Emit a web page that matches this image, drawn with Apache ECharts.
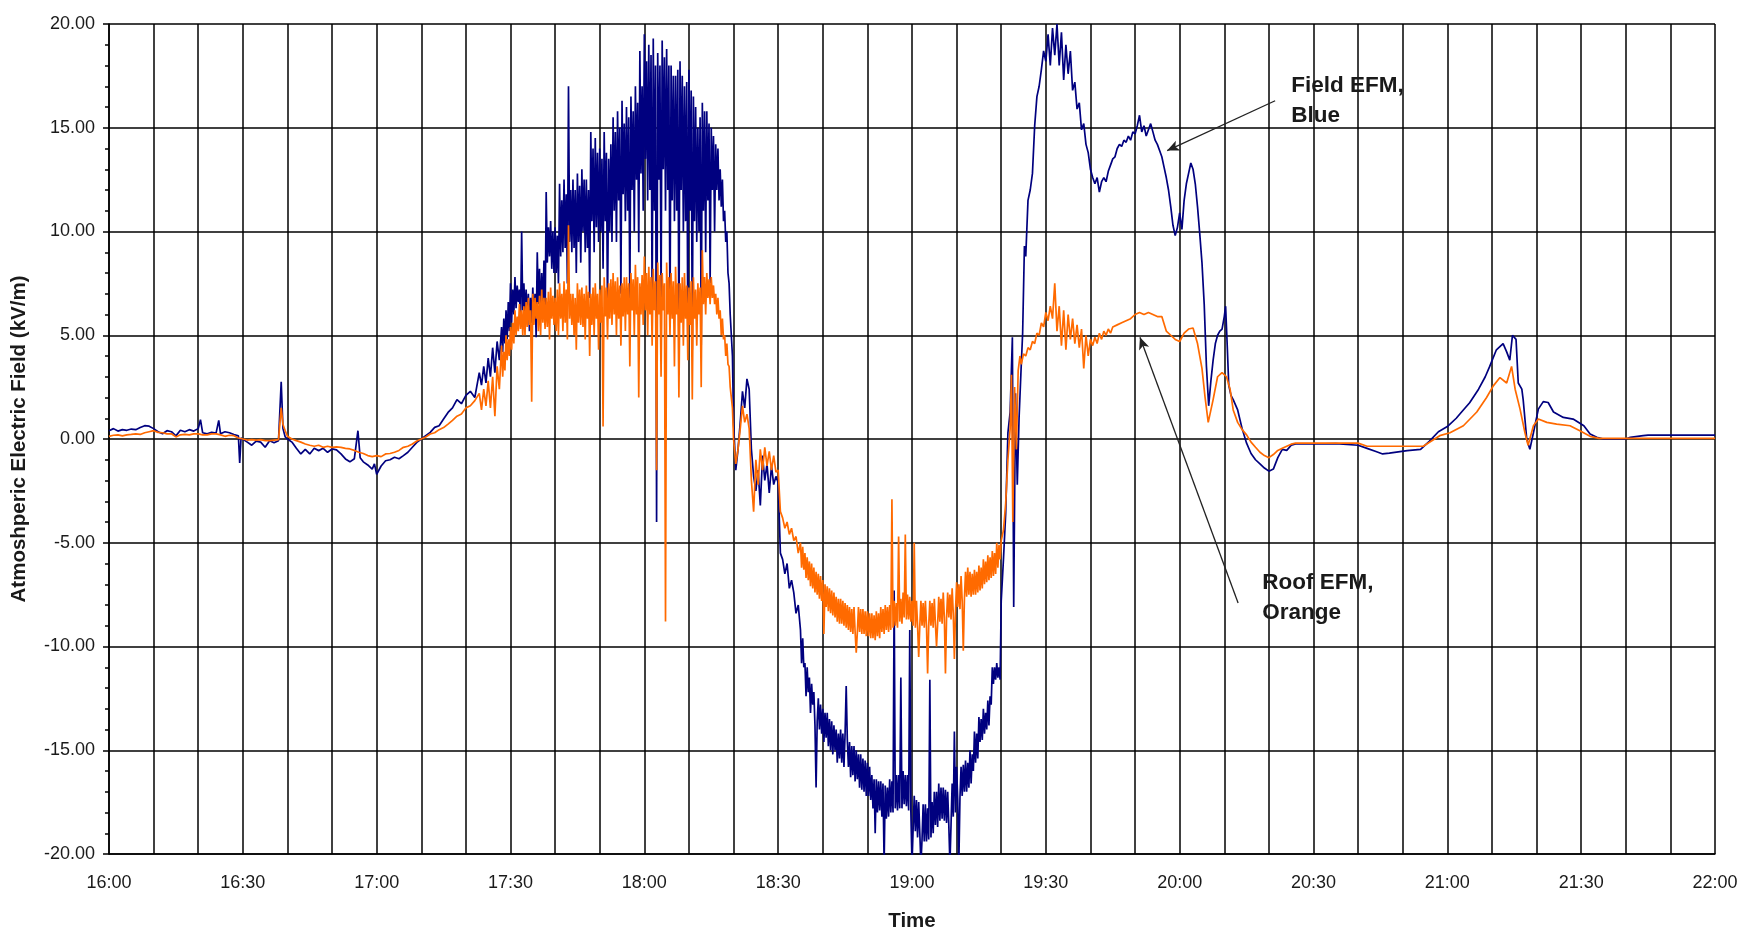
<!DOCTYPE html>
<html>
<head>
<meta charset="utf-8">
<title>Atmospheric Electric Field</title>
<script src="https://cdn.jsdelivr.net/npm/echarts@6/dist/echarts.min.js"></script>
<style>
  html, body { margin: 0; padding: 0; background: #fff; }
  #chart { width: 1748px; height: 937px; }
</style>
</head>
<body>
<div id="chart"></div>
<script>
// Time is in minutes after 16:00; field values in kV/m.
const startHour = 16;
const timeMin = 0;
const timeMax = 360;
const fieldMin = -20;
const fieldMax = 20;

// Storm bursts are logged every quarter minute
const burstStep = 0.25;
const burstAStart = 88;
const burstBStart = 155;

// ---- Field EFM (blue trace) ----
const fieldEarly = [
  [0,0.4],[1,0.5],[2,0.38],[3,0.45],[4,0.42],[5,0.48],[6,0.45],[7,0.55],[8,0.64],[9,0.62],
  [10,0.5],[11,0.35],[12,0.25],[13,0.4],[14,0.35],[15,0.15],[16,0.42],[17,0.35],[18,0.45],[19,0.38],
  [20,0.5],[20.5,0.93],[21,0.3],[22,0.25],[23,0.32],[24,0.28],[24.6,0.9],[25,0.25],[26,0.35],[27,0.3],
  [28,0.22],[29,0.15],[29.3,-1.15],[29.6,0.05],[30,0],[31,-0.15],[32,-0.3],[33,-0.1],[34,-0.15],[35,-0.4],
  [36,-0.08],[37,-0.18],[38,-0.08],[38.6,2.76],[39,0.5],[39.5,0.1],[40,0],[41,-0.15],[42,-0.45],[43,-0.72],
  [44,-0.5],[45,-0.72],[46,-0.45],[47,-0.56],[48,-0.45],[49,-0.64],[50,-0.48],[51,-0.52],[52,-0.72],[53,-0.96],
  [54,-1.1],[55,-0.95],[55.8,0.4],[56.3,-0.9],[57,-1.1],[58,-1.25],[59,-1.45],[59.5,-1.2],[60,-1.7],[61,-1.3],
  [62,-1.05],[63,-1.0],[64,-0.88],[65,-0.95],[66,-0.8],[67,-0.64],[68,-0.4],[69,-0.16],[70,0],[71,0.16],
  [72,0.32],[73,0.56],[74,0.64],[75,0.96],[76,1.28],[77,1.5],[78,1.9],[79,1.7],[80,2.1],[81,2.3],[82,2.0],
  [83,3.2],[83.5,2.6],[84,3.5],[84.5,2.7],[85,3.9],[85.5,3.0],[86,4.4],[86.5,3.2],[87,4.7],[87.5,3.8]
];
// 17:28 - 18:20, four readings per minute
const fieldBurstA = [
  5.4,4.2,5.8,4.6,  6.2,4.8,6.6,5.2,  7.5,5.6,7.2,6.0,  7.8,6.3,7.4,6.6,  7.2,5.6,10.0,6.2,
  7.5,6.0,7.2,5.8,  7.0,5.2,6.8,5.6,  7.3,5.8,7.0,4.9,  9.0,6.5,8.2,6.0,  8.0,6.2,8.6,5.5,
  11.9,8.5,10.2,8.8,  10.5,8.2,10.0,8.0,  10.2,8.0,9.8,7.5,  12.3,8.8,11.5,9.0,  12.5,9.2,11.8,7.5,
  17.0,9.5,12.0,9.0,  12.5,9.2,12.0,8.0,  12.8,9.5,12.2,8.5,  13.0,10.0,12.5,9.0,  12.5,9.2,12.0,6.8,
  14.8,10.5,14.0,9.0,  14.5,10.2,13.8,9.5,  14.0,10.0,13.5,8.2,  14.8,10.5,13.8,6.0,  13.5,10.0,14.2,9.5,
  15.5,11.0,14.8,9.5,  15.8,11.5,15.0,7.0,  16.3,11.8,15.2,10.5,  16.0,11.0,15.5,6.5,  16.5,12.0,15.8,10.0,
  17.0,12.5,16.2,9.0,  18.7,12.8,17.0,11.0,  19.5,13.5,18.2,11.5,  19.0,12.0,18.5,6.0,  19.3,11.0,18.0,-4.0,
  18.6,12.5,18.0,6.5,  19.2,13.0,18.4,11.0,  18.8,12.0,18.0,5.5,  18.0,11.5,17.5,10.5,  17.5,11.0,17.8,4.5,
  18.2,12.0,17.5,10.0,  17.0,10.5,17.2,5.0,  17.8,11.0,16.8,4.3,  16.5,10.5,16.0,9.5,  15.0,10.0,15.5,4.5,
  16.2,11.0,15.8,9.0,  15.8,11.5,15.2,7.5,  15.0,12.0,14.6,10.0,  14.2,12.0,14.0,11.5,  13.0,11.2,12.5,10.5,
  11.0,9.5,10.0,8.0,  7.5,6.0,5.0,4.0
];
const fieldMid = [
  [140,0.8],[140.5,-1.5],[141,-0.5],[141.5,0.8],[142,2.3],[142.5,1.5],[143,2.9],[143.5,2.4],[144,-0.5],[144.5,-1.8],
  [145,-2.5],[145.5,-1.5],[146,-3.2],[146.5,-0.8],[147,-2.0],[147.5,-1.2],[148,-2.6],[148.5,-1.3],[149,-2.2],[149.5,-1.8],
  [150,-2.1],[150.5,-5.5],[151,-5.8],[151.5,-6.5],[152,-6.0],[152.5,-7.2],[153,-6.8],[153.5,-7.4],[154,-8.4],[154.5,-8.0]
];
// 18:35 - 19:20, four readings per minute
const fieldBurstB = [
  -9.2,-10.8,-9.6,-11.0,  -10.8,-12.4,-11.0,-12.2,  -11.5,-13.2,-11.8,-12.8,  -12.2,-13.8,-16.8,-13.6,  -12.5,-14.0,-12.8,-14.2,
  -13.0,-14.6,-13.2,-14.4,  -13.2,-14.8,-13.5,-15.0,  -13.6,-15.2,-13.8,-15.0,  -14.0,-15.6,-14.2,-15.4,  -14.0,-15.6,-14.2,-15.8,
  -14.2,-11.9,-14.5,-15.8,  -14.6,-16.3,-14.8,-16.2,  -14.8,-16.5,-15.0,-16.4,  -15.2,-16.8,-15.2,-16.9,  -15.4,-17.0,-15.5,-17.2,
  -15.6,-17.2,-15.8,-17.4,  -16.2,-17.8,-16.4,-19.0,  -16.4,-18.0,-16.5,-17.9,  -16.5,-18.2,-16.6,-20.5,  -16.7,-18.3,-16.8,-18.2,
  -16.4,-18.0,-16.5,-18.0,  -7.3,-17.8,-16.2,-17.9,  -16.2,-17.8,-11.5,-17.8,  -16.0,-17.6,-16.2,-17.7,  -16.2,-17.9,-9.2,-18.0,
  -20.5,-18.8,-17.2,-18.9,  -17.4,-19.2,-17.5,-19.0,  -20.5,-19.3,-17.6,-19.4,  -17.6,-19.4,-17.8,-19.3,  -11.6,-19.2,-17.5,-19.0,
  -17.0,-18.6,-17.0,-18.7,  -16.6,-18.4,-16.8,-18.3,  -16.8,-18.4,-16.9,-18.5,  -17.0,-18.6,-20.5,-18.6,  -16.6,-18.2,-14.1,-18.0,
  -15.8,-17.4,-20.5,-17.3,  -15.8,-17.2,-15.7,-17.0,  -15.5,-17.0,-15.6,-16.8,  -15.0,-16.6,-15.2,-16.0,  -14.1,-15.6,-14.2,-15.4,
  -13.4,-14.6,-13.5,-14.5,  -13.0,-14.2,-13.2,-14.0,  -12.6,-13.8,-12.4,-12.8,  -11.0,-11.8,-11.0,-11.6,  -10.8,-11.5,-11.0,-11.6
];
const fieldLate = [
  [200,-7.8],[200.5,-5.8],[201,-3.6],[201.5,0.3],[202,1.3],[202.5,4.9],[202.8,-8.1],[203.2,2.2],[203.6,-2.2],[204,1.0],
  [204.4,3.1],[204.8,5.1],[205.2,9.3],[205.5,8.8],[206,11.5],[206.5,12.0],[207,12.8],[207.5,15.1],[208,16.5],[208.5,17.0],
  [209,17.8],[209.5,18.7],[210,18.2],[210.5,19.5],[211,18.0],[211.5,19.8],[212,18.5],[212.5,20.0],[213,18.0],[213.5,19.6],
  [214,17.3],[214.5,19.0],[215,17.6],[215.5,18.7],[216,16.8],[216.5,17.2],[217,15.9],[217.5,16.2],[218,14.9],[218.5,15.2],
  [219,14.2],[219.5,13.8],[220,13.0],[220.5,12.6],[221,12.3],[221.5,12.6],[222,11.9],[222.5,12.4],[223,12.6],[223.5,12.4],
  [224,12.9],[224.5,13.2],[225,13.5],[225.5,13.6],[226,14.0],[226.5,14.2],[227,14.1],[227.5,14.4],[228,14.3],[228.5,14.6],
  [229,14.4],[229.5,14.8],[230,14.7],[230.5,15.1],[231,15.6],[231.5,14.8],[232,15.1],[232.5,14.6],[233,14.9],[233.5,15.2],
  [234,14.8],[234.5,14.4],[235,14.2],[235.5,13.9],[236,13.6],[236.5,13.1],[237,12.6],[237.5,12.0],[238,11.2],[238.5,10.3],
  [239,9.8],[239.5,10.2],[240,10.9],[240.5,10.1],[241,11.5],[241.5,12.3],[242,12.8],[242.5,13.3],[243,13.0],[243.5,12.3],
  [244,11.2],[244.5,9.9],[245,8.5],[245.5,6.5],[246,3.5],[246.5,1.6],[247,2.8],[247.5,3.8],[248,4.6],[248.5,5.0],
  [249,5.2],[249.5,5.3],[250,5.9],[250.3,6.4],[250.7,4.3],[251,2.6],[251.5,2.1],[252,1.9],[253,1.4],[254,0.5],
  [255,-0.2],[256,-0.7],[257,-1.0],[258,-1.2],[259,-1.4],[260,-1.55],[261,-1.45],[262,-0.9],[263,-0.5],[264,-0.55],
  [265,-0.3],[266,-0.24],[270,-0.24],[275,-0.22],[280,-0.3],[282,-0.45],[284,-0.6],[285.5,-0.72],[287,-0.68],[289,-0.62],
  [291,-0.56],[294,-0.5],[296,-0.1],[298,0.35],[300,0.6],[302,1.0],[303,1.25],[305,1.75],[307,2.4],[308.5,3.0],
  [309.5,3.5],[311,4.3],[312.5,4.6],[313.3,4.2],[314,3.8],[314.6,5.0],[315.4,4.8],[315.9,2.7],[316.7,2.4],[317,1.9],
  [317.8,0.0],[318.5,-0.5],[319.3,0.3],[320.4,1.44],[321.5,1.8],[322.6,1.76],[323.8,1.3],[326,1.04],[328.2,0.96],[330.6,0.64],
  [332,0.24],[333.5,0.08],[335,0],[340,0],[341,0.08],[343.9,0.16],[345,0.19],[360,0.19]
];

// ---- Roof EFM (orange trace) ----
const roofEarly = [
  [0,0.13],[1,0.18],[2,0.2],[3,0.15],[4,0.2],[5,0.22],[6,0.25],[7,0.22],[8,0.3],[9,0.35],
  [10,0.4],[11,0.32],[12,0.3],[13,0.25],[14,0.25],[15,0.1],[16,0.2],[17,0.22],[18,0.2],[19,0.25],
  [20,0.25],[21,0.2],[22,0.2],[23,0.25],[24,0.25],[25,0.2],[26,0.13],[27,0.18],[28,0.16],[29,0.05],
  [30,0],[31,-0.05],[32,-0.03],[33,-0.05],[34,-0.03],[35,-0.08],[36,-0.08],[37,-0.05],[38,-0.03],[38.6,1.5],
  [39,0.7],[39.5,0.4],[40,0.13],[41,0.0],[42,-0.08],[43,-0.15],[44,-0.24],[45,-0.3],[46,-0.35],[47,-0.3],
  [48,-0.4],[49,-0.35],[50,-0.4],[51,-0.38],[52,-0.4],[53,-0.45],[54,-0.48],[55,-0.55],[56,-0.64],[57,-0.7],
  [58,-0.8],[59,-0.85],[60,-0.8],[61,-0.85],[62,-0.72],[63,-0.7],[64,-0.64],[65,-0.55],[66,-0.4],[67,-0.35],
  [68,-0.24],[69,-0.1],[70,0],[71,0.1],[72,0.24],[73,0.3],[74,0.45],[75,0.55],[76,0.72],[77,0.9],
  [78,1.1],[79,1.2],[80,1.5],[81,1.6],[82,1.85],
  [83,2.2],[83.5,1.4],[84,2.4],[84.5,1.6],[85,2.8],[85.5,1.5],[86,3.0],[86.5,1.1],[87,3.5],[87.5,2.4]
];
const roofBurstA = [
  4.5,3.0,4.2,3.3,  5.0,3.8,4.8,4.0,  5.4,4.3,5.6,4.6,  6.2,5.0,5.9,5.2,  6.5,5.3,6.2,5.0,
  6.4,5.0,6.6,5.4,  6.8,5.5,6.2,1.8,  7.0,5.5,6.8,5.8,  6.6,5.2,6.9,5.0,  7.2,5.6,6.8,5.3,
  6.8,5.4,7.1,4.8,  7.3,5.8,6.9,5.5,  6.8,5.2,7.2,5.0,  7.5,5.8,7.0,5.2,  7.6,5.6,7.2,4.8,
  10.3,5.8,7.0,5.5,  7.0,5.0,6.8,4.3,  7.5,5.6,7.2,5.5,  7.3,5.4,7.0,4.8,  7.4,5.8,7.1,4.0,
  7.0,5.5,7.3,5.0,  7.5,5.8,7.0,4.3,  7.2,5.6,7.4,0.6,  7.8,5.9,7.3,4.8,  7.5,5.8,7.7,5.5,
  8.0,6.0,7.6,5.0,  7.8,5.8,7.4,4.5,  7.5,5.9,7.8,5.2,  7.8,6.0,7.5,3.5,  8.0,6.2,7.7,5.0,
  8.4,6.0,7.8,2.0,  7.5,6.0,7.9,5.5,  8.8,6.2,8.0,5.0,  8.3,6.0,7.8,4.5,  8.2,6.2,7.6,-1.5,
  8.5,6.0,7.9,3.0,  8.0,6.2,7.5,-8.8,  8.5,6.0,7.8,5.0,  8.0,5.8,7.6,3.5,  8.3,6.0,7.5,2.0,
  7.5,5.6,7.8,4.5,  8.0,5.8,7.4,3.8,  7.3,5.5,7.6,1.9,  7.8,5.8,7.2,4.5,  7.5,6.0,7.3,2.5,
  9.1,6.5,7.8,6.0,  8.0,6.8,7.7,6.5,  7.8,6.8,7.4,6.5,  7.0,6.0,6.8,5.8,  6.2,5.0,5.8,4.8,
  5.0,4.0,4.6,3.6,  3.5,2.5,2.5,1.5
];
const roofMid = [
  [140,0.0],[140.5,-1.2],[141,-0.5],[141.5,0.5],[142,1.6],[142.5,0.8],[143,1.2],[143.5,0.5],[144,-2.0],[144.5,-3.5],
  [145,-1.0],[145.5,-2.2],[146,-0.5],[146.5,-1.5],[147,-0.4],[147.5,-1.3],[148,-0.6],[148.5,-1.5],[149,-0.8],[149.5,-1.6],
  [150,-1.5],[150.5,-3.5],[151,-3.8],[151.5,-4.3],[152,-4.0],[152.5,-4.6],[153,-4.3],[153.5,-4.9],[154,-4.7],[154.5,-5.5]
];
const roofBurstB = [
  -5.0,-6.2,-5.2,-6.3,  -5.5,-6.7,-5.7,-6.8,  -5.9,-7.1,-6.0,-7.2,  -6.2,-7.4,-6.4,-7.5,  -6.5,-7.7,-6.6,-7.8,
  -6.8,-9.4,-7.0,-8.1,  -7.1,-8.3,-7.2,-8.4,  -7.3,-8.5,-7.4,-8.6,  -7.6,-8.8,-7.7,-8.9,  -7.7,-8.9,-7.8,-9.0,
  -7.9,-9.1,-8.0,-9.2,  -8.1,-9.3,-8.2,-9.4,  -8.1,-9.3,-10.3,-9.3,  -8.1,-9.3,-8.2,-9.4,  -8.2,-9.4,-8.3,-9.5,
  -8.3,-9.5,-8.4,-9.6,  -8.4,-9.6,-8.5,-9.7,  -8.3,-9.5,-8.4,-9.6,  -8.1,-9.3,-8.2,-9.4,  -8.0,-9.2,-8.1,-9.3,
  -8.0,-9.2,-2.9,-9.1,  -7.8,-9.0,-7.9,-9.1,  -4.7,-8.8,-7.7,-8.9,  -7.4,-8.6,-4.6,-8.7,  -7.5,-8.7,-7.6,-8.8,
  -7.8,-9.0,-5.0,-9.1,  -7.8,-9.0,-10.5,-9.0,  -7.8,-9.0,-7.9,-9.1,  -7.8,-9.0,-11.3,-9.0,  -7.8,-9.0,-7.9,-9.1,
  -7.7,-8.9,-10.0,-8.9,  -7.6,-8.8,-7.7,-8.9,  -7.4,-8.6,-11.3,-8.6,  -7.4,-8.6,-7.5,-8.7,  -7.2,-8.4,-10.6,-8.3,
  -6.9,-8.1,-7.0,-8.2,  -6.6,-7.8,-10.2,-7.7,  -6.4,-7.6,-6.2,-7.5,  -6.4,-7.6,-6.5,-7.5,  -6.3,-7.5,-6.4,-7.4,
  -6.1,-7.3,-6.2,-7.2,  -5.8,-7.0,-5.9,-6.9,  -5.6,-6.8,-5.7,-6.7,  -5.4,-6.6,-5.5,-6.5,  -5.0,-6.2,-5.1,-5.8
];
const roofLate = [
  [200,-4.9],[200.5,-4.4],[201,-3.1],[201.5,-1.0],[202,0.5],[202.3,3.1],[202.6,-4.0],[203,2.5],[203.4,-0.5],[203.8,3.3],
  [204.2,4.0],[204.5,3.6],[205,4.1],[205.5,4.0],[206,4.4],[206.5,4.3],[207,4.7],[207.5,4.6],[208,5.1],[208.5,5.0],
  [209,5.6],[209.5,5.4],[210,6.1],[210.5,5.7],[211,6.4],[211.5,5.8],[212,7.5],[212.5,5.2],[213,6.4],[213.5,4.5],
  [214,6.2],[214.5,4.3],[215,6.0],[215.5,4.8],[216,5.8],[216.5,4.6],[217,5.5],[217.5,4.4],[218,5.3],[218.5,3.4],
  [219,5.0],[219.5,4.0],[220,4.8],[220.5,4.5],[221,4.9],[221.5,4.6],[222,5.1],[222.5,4.8],[223,5.2],[223.5,5.0],
  [224,5.3],[224.5,5.1],[225,5.4],[226,5.5],[227,5.6],[228,5.7],[229,5.8],[230,6.0],[231,6.1],[232,6.0],
  [233,6.1],[234,6.0],[235,5.9],[236,5.9],[237,5.2],[238,5.0],[239,4.8],[240,4.7],[241,5.1],[242,5.3],
  [243,5.35],[244,4.6],[245,3.4],[245.7,2.0],[246.4,0.8],[247.5,1.9],[248.5,3.0],[249.5,3.2],[250.5,3.0],[251.3,2.4],
  [252,1.4],[253,0.8],[254,0.45],[255,0.2],[256,-0.15],[257,-0.4],[258,-0.64],[259,-0.8],[260,-0.9],[261,-0.75],
  [262,-0.55],[263,-0.45],[264,-0.35],[265,-0.25],[266,-0.2],[280,-0.2],[282,-0.35],[294.6,-0.35],[296,-0.16],[298.3,0.16],
  [300.6,0.3],[303.6,0.64],[306.6,1.3],[308.8,2.0],[310.3,2.56],[311.8,2.96],[313.3,2.7],[314.4,3.5],[315.2,2.4],[316.3,1.44],
  [317.4,0.3],[318.1,-0.3],[319.3,0.64],[320.4,0.96],[322.3,0.8],[324.5,0.72],[327.5,0.64],[329.7,0.4],[332,0.13],[334,0.03],
  [360,0.03]
];

// Callout text and the [time, value] points each arrow runs from and to
const fieldNote = ['Field EFM,', 'Blue'];
const fieldNoteAt = [265, 16.3];
const fieldArrow = [[261.4, 16.3], [237.2, 13.9]];
const roofNote = ['Roof EFM,', 'Orange'];
const roofNoteAt = [258.5, -7.65];
const roofArrow = [[253.1, -7.9], [231.1, 4.9]];

// Assemble [time, value] pairs for each trace
function burstPairs(start, values) {
  return values.map((v, i) => [start + i * burstStep, v]);
}
const fieldEFM = [].concat(
  fieldEarly, burstPairs(burstAStart, fieldBurstA), fieldMid,
  burstPairs(burstBStart, fieldBurstB), fieldLate
);
const roofEFM = [].concat(
  roofEarly, burstPairs(burstAStart, roofBurstA), roofMid,
  burstPairs(burstBStart, roofBurstB), roofLate
);

const fontFamily = '"Liberation Sans", Arial, sans-serif';
const textColor = '#1a1a1a';

function clockLabel(minutes) {
  const h = startHour + Math.floor(minutes / 60);
  const m = minutes % 60;
  return h + ':' + (m < 10 ? '0' + m : m);
}

const chart = echarts.init(document.getElementById('chart'), null, { renderer: 'canvas' });

const option = {
  animation: false,
  backgroundColor: '#ffffff',
  grid: { left: 109, right: 33, top: 24, bottom: 83, containLabel: false },
  xAxis: {
    type: 'value',
    min: timeMin,
    max: timeMax,
    interval: 10,
    name: 'Time',
    nameLocation: 'middle',
    nameGap: 57,
    nameTextStyle: { fontFamily, fontSize: 20.5, fontWeight: 'bold', color: textColor },
    axisLine: { show: true, onZero: false, lineStyle: { color: '#000', width: 1.5 } },
    axisTick: { show: false },
    axisLabel: {
      fontFamily, fontSize: 18, color: textColor, margin: 20,
      showMinLabel: true, showMaxLabel: true,
      formatter: v => (v % 30 === 0 ? clockLabel(v) : '')
    },
    splitLine: { show: true, lineStyle: { color: '#000', width: 1.5 } }
  },
  yAxis: {
    type: 'value',
    min: fieldMin,
    max: fieldMax,
    interval: 5,
    name: 'Atmoshperic Electric Field (kV/m)',
    nameLocation: 'middle',
    nameGap: 79,
    nameRotate: 90,
    nameTextStyle: { fontFamily, fontSize: 20.5, fontWeight: 'bold', color: textColor },
    axisLine: { show: true, onZero: false, lineStyle: { color: '#000', width: 1.5 } },
    axisTick: { show: true, length: 6, lineStyle: { color: '#000', width: 1.5 } },
    minorTick: { show: true, splitNumber: 5, length: 4, lineStyle: { color: '#000', width: 1.5 } },
    axisLabel: { fontFamily, fontSize: 18, color: textColor, margin: 14, formatter: v => v.toFixed(2) },
    splitLine: { show: true, lineStyle: { color: '#000', width: 1.5 } }
  },
  series: [
    {
      name: 'Roof EFM',
      type: 'line',
      data: roofEFM,
      showSymbol: false,
      clip: true,
      z: 3,
      lineStyle: { color: '#ff6a00', width: 1.7 },
      itemStyle: { color: '#ff6a00' }
    },
    {
      name: 'Field EFM',
      type: 'line',
      data: fieldEFM,
      showSymbol: false,
      clip: true,
      z: 2,
      lineStyle: { color: '#00007f', width: 1.7 },
      itemStyle: { color: '#00007f' }
    },
    {
      // callout arrows
      type: 'line',
      data: [],
      silent: true,
      z: 5,
      markLine: {
        silent: true,
        animation: false,
        label: { show: false },
        lineStyle: { color: '#222', width: 1.3, type: 'solid' },
        data: [
          [{ coord: fieldArrow[0], symbol: 'none' }, { coord: fieldArrow[1], symbol: 'arrow', symbolSize: [8, 12] }],
          [{ coord: roofArrow[0], symbol: 'none' }, { coord: roofArrow[1], symbol: 'arrow', symbolSize: [8, 12] }]
        ]
      }
    }
  ]
};

chart.setOption(option);

// Callout texts anchored to data coordinates
function noteGraphic(lines, at) {
  const p = chart.convertToPixel({ gridIndex: 0 }, at);
  return {
    type: 'text',
    x: p[0],
    y: p[1],
    z: 10,
    style: {
      text: lines.join('\n'),
      fontFamily,
      fontSize: 22.5,
      fontWeight: 'bold',
      lineHeight: 30,
      fill: textColor,
      verticalAlign: 'middle',
      align: 'left'
    }
  };
}

chart.setOption({
  graphic: [noteGraphic(fieldNote, fieldNoteAt), noteGraphic(roofNote, roofNoteAt)]
});
</script>
</body>
</html>
